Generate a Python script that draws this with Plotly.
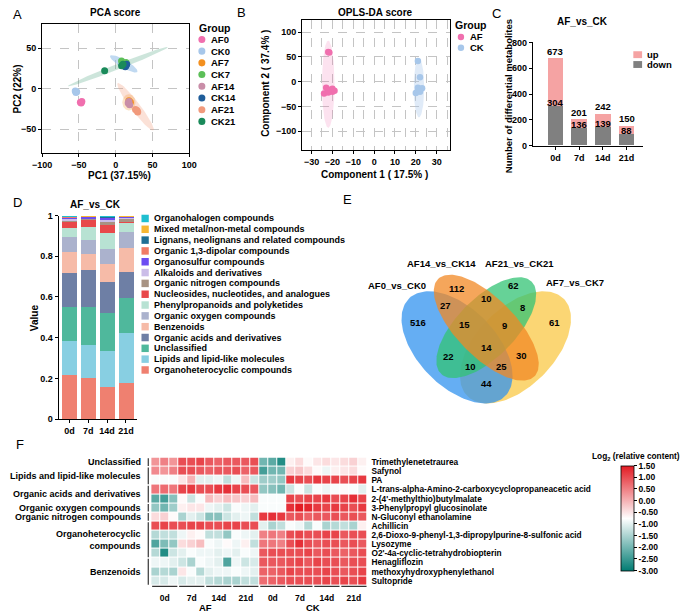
import numpy as np
import plotly.graph_objects as go

W, H = 691, 615
FONT = "Liberation Sans"

# ---------------- Panel A : PCA score ----------------
pca_groups = ["AF0", "CK0", "AF7", "CK7", "AF14", "CK14", "AF21", "CK21"]
pca_colors = ["#f06fae", "#a7c7ea", "#f39020", "#5cbf58", "#c98ea8", "#1f5d9a", "#f19a7c", "#1a8a5a"]
pca_point_group = ["AF0"] * 3 + ["CK0"] * 3 + ["AF7"] * 3 + ["CK7"] * 3 + ["AF14"] * 3 + ["CK14"] * 3 + ["AF21"] * 3 + ["CK21"] * 3
pca_pc1 = [-48, -47, -46, -55, -54, -53, 18, 19, 20, 8, 11, 14, 17, 19, 18, 14, 15, 13, 27, 30, 29, -15, 8, 10]
pca_pc2 = [-17, -18, -16, -3, -5, -4, -15, -19, -17, 34, 31, 32, -18, -20, -16, 28, 30, 27, -26, -29, -27, 22, 28, 30]
pca_ell_group = ["CK21", "CK14", "CK7", "AF21", "AF7", "CK0", "AF0"]
pca_ell_color = ["rgba(26,138,90,0.22)", "rgba(140,185,230,0.55)", "rgba(92,191,88,0.25)",
                 "rgba(241,154,124,0.30)", "rgba(243,144,32,0.25)", "rgba(167,199,234,0.5)", "rgba(240,111,174,0.3)"]
pca_ell_cx = [3, 11, 12, 27, 18, -54, -47]
pca_ell_cy = [27, 30.5, 32, -22.5, -17, -4, -17]
pca_ell_a = [72, 21, 8, 38, 9, 5, 4]
pca_ell_b = [3.5, 5, 4, 6, 10, 3, 3]
pca_ell_angle = [19.5, -28, 0, -50, 0, 0, 0]

# ---------------- Panel B : OPLS-DA ----------------
opls_groups = ["AF", "CK"]
opls_colors = ["#f06fae", "#a7c7ea"]
opls_af_c1 = [-22, -21.5, -23, -21, -20, -19, -22, -24, -22, -20]
opls_af_c2 = [60, 59, -12, -16, -20, -18, -22, -24, -18, -14]
opls_ck_c1 = [21, 22, 21, 22, 23, 20, 21, 22]
opls_ck_c2 = [42, 9, -12, -15, -13, -23, -18, -20]
opls_ell_cx = [-22, 21.5]
opls_ell_cy = [-5, -12]
opls_ell_a = [3, 2.5]
opls_ell_b = [88, 60]
opls_ell_color = ["rgba(240,111,174,0.2)", "rgba(167,199,234,0.35)"]

# ---------------- Panel C : differential metabolites ----------------
c_days = ["0d", "7d", "14d", "21d"]
c_total = [673, 201, 242, 150]
c_down = [304, 136, 139, 88]
c_up = [t - d for t, d in zip(c_total, c_down)]

# ---------------- Panel D : class composition ----------------
d_days = ["0d", "7d", "14d", "21d"]
d_classes = ["Organoheterocyclic compounds", "Lipids and lipid-like molecules", "Unclassified",
             "Organic acids and derivatives", "Benzenoids", "Organic oxygen compounds",
             "Phenylpropanoids and polyketides", "Nucleosides, nucleotides, and analogues",
             "Organic nitrogen compounds", "Alkaloids and derivatives", "Organosulfur compounds",
             "Organic 1,3-dipolar compounds", "Lignans, neolignans and related compounds",
             "Mixed metal/non-metal compounds", "Organohalogen compounds"]
d_colors = ["#ef8070", "#88cfe2", "#4fb89c", "#6e7fa5", "#f6bba8", "#abb2cd", "#b8e2d3",
            "#e8484a", "#a89383", "#cbbde8", "#6c4cf2", "#f07b66", "#1f6e94", "#f7b733", "#1fbfd0"]
d_0d = [0.218, 0.167, 0.170, 0.163, 0.105, 0.075, 0.044, 0.029, 0.008, 0.008, 0.007, 0.002, 0.002, 0.001, 0.001]
d_7d = [0.203, 0.165, 0.184, 0.185, 0.076, 0.069, 0.065, 0.037, 0.003, 0.003, 0.007, 0.001, 0.001, 0.001, 0.000]
d_14d = [0.160, 0.179, 0.185, 0.153, 0.089, 0.074, 0.075, 0.043, 0.013, 0.013, 0.008, 0.003, 0.002, 0.002, 0.001]
d_21d = [0.181, 0.246, 0.170, 0.126, 0.119, 0.081, 0.045, 0.003, 0.019, 0.004, 0.002, 0.002, 0.001, 0.001, 0.000]

# ---------------- Panel E : Venn ----------------
venn_sets = ["AF0_vs_CK0", "AF14_vs_CK14", "AF21_vs_CK21", "AF7_vs_CK7"]
venn_colors = ["#3193ef", "#f28824", "#33c374", "#f9c845"]
venn_counts = [516, 112, 62, 61, 27, 10, 8, 15, 9, 14, 22, 30, 10, 25, 44]
# ellipse geometry (unit square, VennDiagram quad layout)
venn_cx = [0.35, 0.50, 0.50, 0.65]
venn_cy = [0.47, 0.57, 0.57, 0.47]
venn_a = [0.35, 0.35, 0.33, 0.35]
venn_b = [0.20, 0.15, 0.15, 0.20]
venn_rot = [135, 135, 45, 45]
venn_draw_order = [3, 0, 2, 1]
venn_count_u = [0.15, 0.345, 0.64, 0.85, 0.29, 0.50, 0.685, 0.39, 0.595, 0.50, 0.305, 0.68, 0.42, 0.58, 0.50]
venn_count_v = [0.595, 0.77, 0.785, 0.595, 0.685, 0.72, 0.675, 0.585, 0.58, 0.47, 0.425, 0.43, 0.375, 0.375, 0.285]
venn_set_u = [0.04, 0.27, 0.67, 0.955]
venn_set_v = [0.785, 0.895, 0.895, 0.80]

# ---------------- Panel F : heatmap ----------------
hm_metabolites = ["Trimethylenetetraurea", "Safynol", "PA",
                  "L-trans-alpha-Amino-2-carboxycyclopropaneacetic acid",
                  "2-(4'-methylthio)butylmalate", "3-Phenylpropyl glucosinolate",
                  "N-Gluconyl ethanolamine", "Achillicin",
                  "2,6-Dioxo-9-phenyl-1,3-dipropylpurine-8-sulfonic acid", "Lysozyme",
                  "O2'-4a-cyclic-tetrahydrobiopterin", "Henagliflozin",
                  "methoxyhydroxyphenylethanol", "Sultopride"]
hm_class_names = ["Unclassified", "Lipids and lipid-like molecules", "Organic acids and derivatives",
                  "Organic oxygen compounds", "Organic nitrogen compounds",
                  "Organoheterocyclic<br>compounds", "Benzenoids"]
hm_class_first_row = [0, 1, 3, 5, 6, 7, 11]
hm_class_last_row = [0, 2, 4, 5, 6, 10, 13]
hm_day_labels = ["0d", "7d", "14d", "21d", "0d", "7d", "14d", "21d"]
hm_treatments = ["AF", "CK"]
hm_values = [
    [0.3, 0.5, 0.3, 1.0, 1.0, 1.1, 0.9, 0.8, 0.9, 0.9, 0.9, 1.0, -2.0, -2.2, -2.7, -0.6, -0.4, -0.7, -0.5, -0.4, -0.5, -0.4, -0.3, -0.6],
    [0.4, 0.3, 0.5, 1.0, 1.0, 0.9, 0.8, 0.9, 0.9, 1.0, 0.8, 0.9, -2.4, -2.0, -2.0, -0.3, -0.2, -0.4, -0.7, -0.9, -0.6, -0.5, -0.4, -0.7],
    [-0.8, -0.8, -0.8, -0.5, 0.0, -1.0, -1.0, -0.9, -1.3, -0.9, -0.1, -1.2, -1.6, -1.6, -1.7, 1.2, 1.1, 1.0, 1.2, 1.1, 1.1, 1.0, 1.1, 1.2],
    [0.6, 0.7, 0.6, 1.1, 1.2, 1.0, 1.0, 1.2, 1.3, 1.1, 1.0, 0.9, -1.7, -1.8, -2.0, -1.2, -0.8, -1.2, -0.8, -0.9, -0.8, -0.7, -0.8, -1.0],
    [-2.2, -2.4, -1.8, -0.7, -1.2, -0.8, -0.1, -0.3, -0.1, -0.2, -0.3, -0.1, -0.8, -0.8, -0.8, 1.1, 1.0, 1.1, 1.1, 1.2, 1.0, 1.1, 1.3, 1.1],
    [-1.7, -2.0, -1.6, -0.6, -0.5, -0.5, -0.9, -1.0, -1.2, -0.8, -0.9, -1.0, -0.8, -0.8, -0.8, 1.3, 1.5, 1.4, 1.2, 1.1, 1.2, 1.1, 1.0, 1.2],
    [-0.4, -0.3, -0.7, -1.5, -1.0, -1.2, -1.8, -1.8, -1.2, -1.0, -0.9, -1.3, 1.2, 1.3, 1.2, 0.9, 1.0, 0.8, 0.9, 0.9, 1.0, 0.9, 1.0, 0.9],
    [1.0, 1.1, 1.0, 1.0, 1.1, 1.1, 1.0, 1.0, 1.1, 1.1, 1.0, 1.0, -1.0, -1.5, -1.3, -0.8, -0.9, -1.4, -0.8, -1.5, -1.4, -1.3, -1.5, -0.6],
    [-1.4, -1.3, -1.3, -0.9, -0.6, -0.7, -1.3, -1.3, -1.7, -0.8, -0.9, -1.0, 0.5, 0.6, 0.5, 1.0, 1.1, 1.0, 1.0, 1.1, 1.1, 0.9, 1.0, 1.0],
    [-2.3, -1.9, -1.7, -0.4, -0.3, -0.1, -0.8, -0.9, -0.7, -0.9, -0.6, -1.3, 0.6, 0.6, 0.5, 1.0, 1.3, 1.0, 0.9, 1.0, 1.0, 0.9, 1.0, 0.9],
    [-1.4, -2.7, -1.2, -1.0, -0.8, -0.9, -0.9, -1.0, -0.9, -1.0, -0.8, -0.9, 0.9, 1.0, 1.0, 1.0, 1.0, 1.1, 0.9, 1.0, 0.9, 0.8, 0.9, 1.0],
    [-0.9, -0.9, -1.0, -1.2, -1.5, -0.8, -0.9, -1.0, -2.3, -0.9, -1.2, -1.1, 0.9, 0.9, 0.9, 1.0, 1.1, 0.9, 1.1, 1.0, 1.0, 0.9, 1.0, 1.0],
    [-1.5, -1.4, -1.5, -0.5, -0.8, -1.4, -1.0, -0.9, -0.9, -0.8, -0.9, -1.0, 0.8, 0.8, 0.9, 1.1, 1.0, 1.0, 1.0, 1.1, 1.0, 0.9, 1.0, 1.1],
    [-1.1, -1.1, -0.9, -1.1, -1.0, -1.0, -1.3, -1.4, -1.5, -1.5, -1.3, -1.3, 0.7, 0.8, 0.9, 1.0, 1.0, 1.0, 1.0, 1.1, 1.0, 1.1, 1.0, 1.2],
]
hm_cbar_ticks = [1.5, 1.0, 0.5, 0.0, -0.5, -1.0, -1.5, -2.0, -2.5, -3.0]


# ---------------- helpers ----------------
def dom_x(a, b):
    return [a / W, b / W]


def dom_y(top, bottom):
    return [1 - bottom / H, 1 - top / H]


def ellipse(cx, cy, a, b, ang, n=90):
    t = np.linspace(0, 2 * np.pi, n)
    th = np.deg2rad(ang)
    x = cx + a * np.cos(t) * np.cos(th) - b * np.sin(t) * np.sin(th)
    y = cy + a * np.cos(t) * np.sin(th) + b * np.sin(t) * np.cos(th)
    return x, y


def F(size=9, bold=True, color="black"):
    return dict(family=FONT, size=size, color=color, weight="bold" if bold else "normal")


annotations = []
shapes = []


def ann(text, x, y, size=9, bold=True, xanchor="center", yanchor="middle", angle=0,
        xref="paper", yref="paper", align="center", yshift=0):
    if xref == "paper":
        x = x / W
    if yref == "paper":
        y = 1 - y / H
    annotations.append(dict(text=text, x=x, y=y, xref=xref, yref=yref, showarrow=False,
                            font=F(size, bold), xanchor=xanchor, yanchor=yanchor,
                            textangle=angle, align=align, yshift=yshift))


def circle(cx, cy, r, color):
    shapes.append(dict(type="circle", xref="paper", yref="paper", x0=(cx - r) / W, x1=(cx + r) / W,
                       y0=1 - (cy + r) / H, y1=1 - (cy - r) / H, fillcolor=color, line=dict(width=0)))


def rect(x0, y0, x1, y1, color):
    shapes.append(dict(type="rect", xref="paper", yref="paper", x0=x0 / W, x1=x1 / W,
                       y0=1 - y1 / H, y1=1 - y0 / H, fillcolor=color, line=dict(width=0)))


fig = go.Figure()

# ---- A
for g, col, cx, cy, a, b, ang in zip(pca_ell_group, pca_ell_color, pca_ell_cx, pca_ell_cy, pca_ell_a, pca_ell_b, pca_ell_angle):
    ex, ey = ellipse(cx, cy, a, b, ang)
    fig.add_trace(go.Scatter(x=ex, y=ey, mode="lines", fill="toself", fillcolor=col, line=dict(width=0),
                             xaxis="x", yaxis="y", showlegend=False, hoverinfo="skip"))
for g, col in zip(pca_groups, pca_colors):
    xs = [x for x, gg in zip(pca_pc1, pca_point_group) if gg == g]
    ys = [y for y, gg in zip(pca_pc2, pca_point_group) if gg == g]
    fig.add_trace(go.Scatter(x=xs, y=ys, mode="markers", marker=dict(size=7, color=col),
                             xaxis="x", yaxis="y", showlegend=False, name=g))

# ---- B
for cx, cy, a, b, col in zip(opls_ell_cx, opls_ell_cy, opls_ell_a, opls_ell_b, opls_ell_color):
    ex, ey = ellipse(cx, cy, a, b, 0)
    fig.add_trace(go.Scatter(x=ex, y=ey, mode="lines", fill="toself", fillcolor=col, line=dict(width=0),
                             xaxis="x2", yaxis="y2", showlegend=False, hoverinfo="skip"))
fig.add_trace(go.Scatter(x=opls_af_c1, y=opls_af_c2, mode="markers", marker=dict(size=6.5, color=opls_colors[0]),
                         xaxis="x2", yaxis="y2", showlegend=False, name="AF"))
fig.add_trace(go.Scatter(x=opls_ck_c1, y=opls_ck_c2, mode="markers", marker=dict(size=6.5, color=opls_colors[1]),
                         xaxis="x2", yaxis="y2", showlegend=False, name="CK"))

# ---- C
fig.add_trace(go.Bar(x=c_days, y=c_down, marker=dict(color="#808080", line=dict(width=0)), width=0.65,
                     xaxis="x3", yaxis="y3", showlegend=False, name="down"))
fig.add_trace(go.Bar(x=c_days, y=c_up, marker=dict(color="#f5a3a3", line=dict(width=0)), width=0.65,
                     xaxis="x3", yaxis="y3", showlegend=False, name="up"))
for d, t, dn in zip(c_days, c_total, c_down):
    ann(str(t), d, t, size=9.5, xref="x3", yref="y3", yanchor="bottom", yshift=0)
    ann(str(dn), d, dn, size=9.5, xref="x3", yref="y3", yanchor="middle", yshift=4)

# ---- D
for i, (cls, col) in enumerate(zip(d_classes, d_colors)):
    vals = [d_0d[i], d_7d[i], d_14d[i], d_21d[i]]
    fig.add_trace(go.Bar(x=d_days, y=vals, marker=dict(color=col, line=dict(width=0)), width=0.81,
                         xaxis="x4", yaxis="y4", showlegend=False, name=cls))

# ---- E
for k in venn_draw_order:
    ex, ey = ellipse(venn_cx[k], venn_cy[k], venn_a[k], venn_b[k], venn_rot[k], n=160)
    fig.add_trace(go.Scatter(x=ex, y=ey, mode="lines", fill="toself", fillcolor=venn_colors[k], opacity=0.75,
                             line=dict(width=0), xaxis="x5", yaxis="y5", showlegend=False, hoverinfo="skip"))
for cnt, u, v in zip(venn_counts, venn_count_u, venn_count_v):
    ann(str(cnt), u, v, size=9.5, xref="x5", yref="y5")
for s, u, v in zip(venn_sets, venn_set_u, venn_set_v):
    ann(s, u, v, size=9.5, xref="x5", yref="y5")

# ---- F
fig.add_trace(go.Heatmap(
    z=hm_values, x=list(range(24)), y=list(range(len(hm_metabolites))),
    zmin=-3, zmax=1.5, xgap=1, ygap=1,
    colorscale=[[0, "#007b72"], [0.5, "#ffffff"], [1, "#e31b23"]],
    xaxis="x6", yaxis="y6", showscale=True,
    colorbar=dict(x=627 / W, xanchor="left", y=1 - 521.5 / H, yanchor="middle", len=107 / H, lenmode="fraction",
                  thickness=13, xpad=0, ypad=0, outlinewidth=0.8, outlinecolor="black",
                  tickmode="array", tickvals=hm_cbar_ticks, ticktext=[f"{v:.2f}" for v in hm_cbar_ticks],
                  ticks="outside", ticklen=3, tickcolor="black", tickfont=F(8.5))))
for gi in range(8):
    shapes.append(dict(type="line", xref="x6", yref="paper", x0=3 * gi - 0.4, x1=3 * gi + 2.4,
                       y0=1 - 591 / H, y1=1 - 591 / H, line=dict(color="#333333", width=1.3)))
ann(hm_treatments[0], 5.5, 612, size=9.5, xref="x6")
ann(hm_treatments[1], 17.5, 612, size=9.5, xref="x6")
for name, r0, r1 in zip(hm_class_names, hm_class_first_row, hm_class_last_row):
    ann(name, 137, (r0 + r1) / 2, size=9, xanchor="right", yref="y6", align="right")
    shapes.append(dict(type="line", xref="paper", yref="y6", x0=142 / W, x1=142 / W, y0=r0 - 0.42, y1=r1 + 0.42,
                       line=dict(color="#444444", width=1.3)))
ann("Log<sub>2</sub> (relative content)", 690, 459, size=8.3, xanchor="right")

# ---- legends (manual)
ann("Group", 192, 23, size=10.5, xanchor="left")
for i, (g, col) in enumerate(zip(pca_groups, pca_colors)):
    y = 35 + 11.9 * i
    circle(197, y, 3.6, col)
    ann(g, 204, y, size=9.5, xanchor="left")
ann("Group", 455, 20, size=10.5, xanchor="left")
for i, (g, col) in enumerate(zip(opls_groups, opls_colors)):
    y = 32.5 + 11 * i
    circle(463, y, 3.3, col)
    ann(g, 470, y, size=9.5, xanchor="left")
rect(640, 47, 649, 54, "#f5a3a3")
ann("up", 652, 50.5, size=9.5, xanchor="left")
rect(640, 57, 649, 64, "#808080")
ann("down", 652, 60.5, size=9.5, xanchor="left")
for i in range(len(d_classes)):
    k = len(d_classes) - 1 - i
    y = 217 + 11 * i
    rect(135, y - 3.8, 142.5, y + 3.8, d_colors[k])
    ann(d_classes[k], 146, y, size=9, xanchor="left")

# ---- titles / axis titles / panel letters
ann("PCA score", 108, 8, size=10)
ann("OPLS-DA score", 375, 8, size=10)
ann("AF_vs_CK", 588, 17, size=10)
ann("AF_vs_CK", 88, 203, size=10)
ann("PC1 (37.15%)", 112, 173, size=10)
ann("PC2 (22%)", 8, 85, size=10, angle=-90)
ann("Component 1 ( 17.5% )", 374, 172, size=10)
ann("Component 2 ( 37.4% )", 263, 80, size=10, angle=-90)
ann("Number of differential metabolites", 512, 93, size=9.5, angle=-90)
ann("Value", 25, 318, size=10, angle=-90)
for letter, x, y in [("A", 8, 10), ("B", 238, 8), ("C", 500, 9), ("D", 8, 201), ("E", 347, 198), ("F", 10, 447)]:
    ann(letter, x, y, size=13, bold=False)

fig.update_layout(annotations=annotations, shapes=shapes)

box = dict(showline=True, mirror=True, linecolor="black", linewidth=1.3, ticks="outside", ticklen=3,
           tickcolor="black", tickfont=F(9), zeroline=False, showgrid=True, gridcolor="#c4c4c4",
           griddash="dash", gridwidth=1)
plain = dict(showline=True, linecolor="black", linewidth=1.3, ticks="outside", ticklen=3, tickcolor="black",
             tickfont=F(9), zeroline=False, showgrid=False)

fig.update_layout(
    width=W, height=H, autosize=False, margin=dict(l=0, r=0, t=0, b=0),
    paper_bgcolor="white", plot_bgcolor="white", barmode="stack", bargap=0,
    font=dict(family=FONT, color="black"),
    xaxis=dict(domain=dom_x(33, 184), range=[-100, 100], tickmode="linear", tick0=0, dtick=50, anchor="y", **box),
    yaxis=dict(domain=dom_y(19, 150), range=[-79, 80], tickmode="linear", tick0=0, dtick=50, anchor="x", **box),
    xaxis2=dict(domain=dom_x(300, 452), range=[-34.5, 36.5], tickmode="linear", tick0=0, dtick=10, anchor="y2",
                minor=dict(dtick=5, showgrid=True, gridcolor="#c4c4c4", griddash="dash"), **box),
    yaxis2=dict(domain=dom_y(15, 147), range=[-137, 125], tickmode="linear", tick0=0, dtick=50, anchor="x2", **box),
    xaxis3=dict(domain=dom_x(537, 650), range=[-0.95, 3.7], anchor="y3", type="category", **plain),
    yaxis3=dict(domain=dom_y(38, 143), range=[0, 800], tickmode="linear", tick0=0, dtick=200, anchor="x3", **plain),
    xaxis4=dict(domain=dom_x(50, 130), range=[-0.57, 3.57], anchor="y4", type="category", **plain),
    yaxis4=dict(domain=dom_y(214, 421), range=[0, 1], tickmode="array", tickvals=[0, 0.2, 0.4, 0.6, 0.8, 1],
                ticktext=["0", "0.2", "0.4", "0.6", "0.8", "1"], anchor="x4", **plain),
    xaxis5=dict(domain=dom_x(389, 589), range=[0, 1], visible=False, anchor="y5"),
    yaxis5=dict(domain=dom_y(242, 442), range=[0, 1], visible=False, anchor="x5"),
    xaxis6=dict(domain=dom_x(145, 367), range=[-0.5, 23.5], anchor="y6", tickmode="array",
                tickvals=[3 * i + 1 for i in range(8)], ticktext=hm_day_labels, ticks="", tickfont=F(8.5),
                showgrid=False, zeroline=False, showline=False, ticklabelstandoff=6),
    yaxis6=dict(domain=dom_y(460, 590), range=[13.5, -0.5], anchor="x6", side="right", tickmode="array",
                tickvals=list(range(len(hm_metabolites))), ticktext=hm_metabolites, ticks="",
                tickfont=F(8.3), showgrid=False, zeroline=False, showline=False, ticklabelstandoff=3),
)

fig.write_html("out.html", config={"displayModeBar": False},
               post_script="document.body.style.margin='0';document.body.style.overflow='hidden';")
